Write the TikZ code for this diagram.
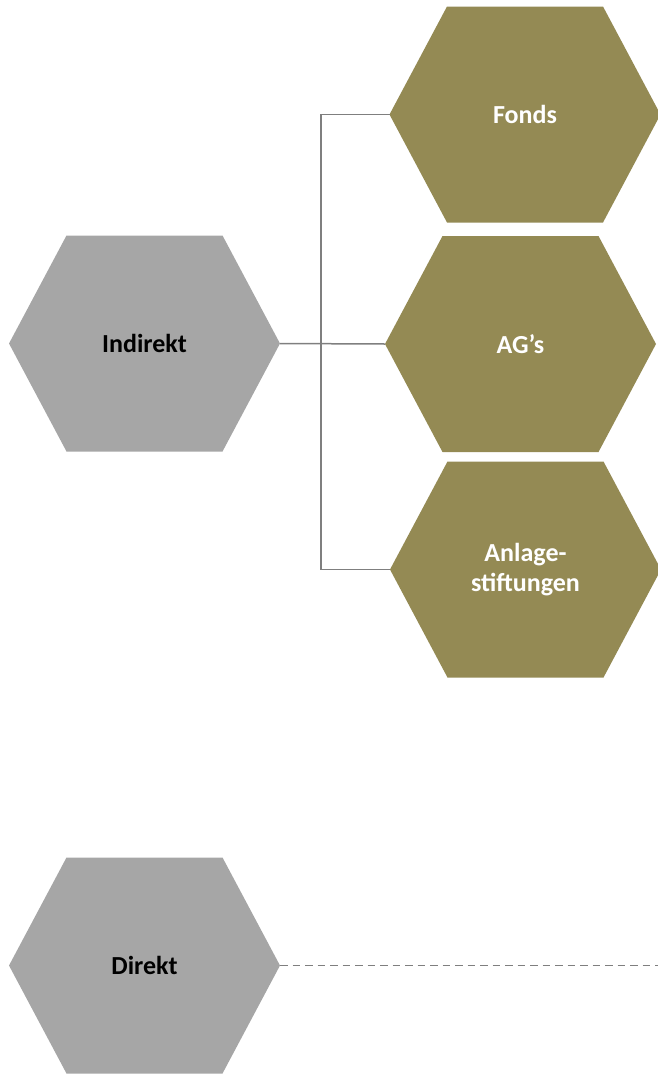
\documentclass[tikz,border=0pt]{standalone}
\usepackage{fontspec}
\setmainfont{Carlito}
\usetikzlibrary{math}
\definecolor{olivegold}{HTML}{948A54}
\definecolor{hexgray}{HTML}{A6A6A6}
\definecolor{linegray}{HTML}{7F7F7F}

\begin{document}
\begin{tikzpicture}[x=1pt,y=-1pt,
    hextext/.style={font=\fontsize{26}{30}\selectfont\bfseries,align=center},
    link/.style={draw=linegray,line width=1.5pt}]
  \tikzmath{
    real \HalfW,\HalfH,\HalfTop,\BusX;
    \HalfW=135.5;
    \HalfH=108;
    \HalfTop=78;
    \BusX=321;
  }
  \useasboundingbox (0,0) rectangle (658,1074);

  \foreach \n/\x/\y/\c/\tc/\t in {
      indirekt/144.5/343.5/hexgray/black/Indirekt,
      direkt/144.5/965.5/hexgray/black/Direkt,
      fonds/525/114.5/olivegold/white/Fonds,
      ags/520.5/344/olivegold/white/AG’s,
      anlage/525.5/569.5/olivegold/white/{Anlage-\\stiftungen}}{
    \coordinate (\n) at (\x,\y);
    \fill[\c] (\n) ++(-\HalfW,0) -- ++(\HalfW-\HalfTop,-\HalfH) -- ++(2*\HalfTop,0)
      -- ++(\HalfW-\HalfTop,\HalfH) -- ++(\HalfTop-\HalfW,\HalfH) -- ++(-2*\HalfTop,0) -- cycle;
    \node[hextext,text=\tc] (\n-text) at (\n) {\t};
    \path (\n) ++(-\HalfW,0) coordinate (\n-w) ++(2*\HalfW,0) coordinate (\n-e);
  }

  \coordinate (bus) at (\BusX,0);
  \coordinate (direkt-end) at (658,965.5);

  \draw[link] (indirekt-e) -- (ags-w);
  \draw[link] (fonds-w) -- (fonds-w -| bus) -- (anlage-w -| bus) -- (anlage-w);
  \draw[link,dash pattern=on 7.5pt off 5pt] (direkt-e) -- (direkt-end);
\end{tikzpicture}
\end{document}
